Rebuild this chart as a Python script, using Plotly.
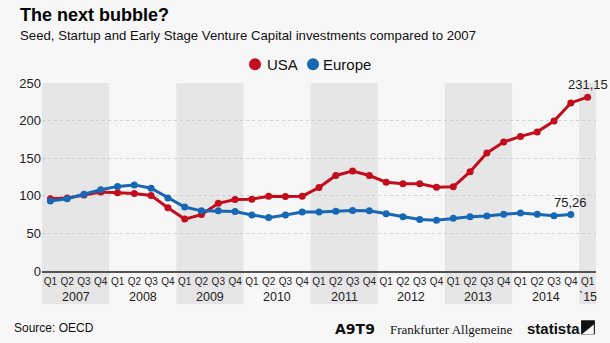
import plotly.graph_objects as go

quarters = ["Q1", "Q2", "Q3", "Q4"] * 8 + ["Q1"]
years = ["2007", "2008", "2009", "2010", "2011", "2012", "2013", "2014", "`15"]
usa = [96, 97, 101, 105, 104, 103, 100.5, 84, 69, 75, 90, 95, 95.5, 99.5, 99, 99.5,
       111, 127, 133, 127, 118, 116, 116, 111.5, 112, 132, 157, 171.5, 179, 185, 199.5, 223.5, 231.15]
europe = [93, 96, 102, 108, 112.5, 114.5, 110, 97, 85, 80, 80, 79, 74.5, 71, 74.5, 78.5,
          78.5, 79.5, 80.5, 80, 76, 72, 68.5, 67.5, 70, 72, 73, 75.5, 77, 75.5, 73.5, 75.26]
series_names = ["USA", "Europe"]

FONT_N = "Liberation Sans Narrow, Liberation Sans, sans-serif"
FONT = "Liberation Sans, Arial, sans-serif"
RED = "#c30d1c"
BLUE = "#1767b4"

xi = list(range(len(quarters)))
fig = go.Figure()

# shaded year bands
for k, yr in enumerate(years):
    if k % 2 == 0:
        x0 = 4 * k - 0.5
        x1 = min(4 * k + 3.5, len(quarters) - 0.5)
        fig.add_shape(type="rect", xref="x", yref="paper", x0=x0, x1=x1, y0=-0.177, y1=1,
                      fillcolor="#e6e6e6", line_width=0, layer="below")

fig.add_trace(go.Scatter(x=xi[:len(usa)], y=usa, mode="lines+markers", name=series_names[0],
                         line=dict(color=RED, width=3), marker=dict(color=RED, size=7),
                         showlegend=False, hoverinfo="skip"))
fig.add_trace(go.Scatter(x=xi[:len(europe)], y=europe, mode="lines+markers", name=series_names[1],
                         line=dict(color=BLUE, width=3), marker=dict(color=BLUE, size=7),
                         showlegend=False, hoverinfo="skip"))

ann = []
for k, yr in enumerate(years):
    cx = 4 * k + 1.5 if k < len(years) - 1 else 4 * k
    ann.append(dict(x=cx, y=-0.14, xref="x", yref="paper", yanchor="middle", text=yr, showarrow=False,
                    font=dict(family=FONT_N, size=12.5, color="#222")))
ann.append(dict(x=len(usa) - 1, y=usa[-1], xref="x", yref="y", text=f"{usa[-1]:.2f}".replace(".", ","),
                showarrow=False, yshift=13, font=dict(family=FONT_N, size=13, color="#222")))
ann.append(dict(x=len(europe) - 1, y=europe[-1], xref="x", yref="y", text=f"{europe[-1]:.2f}".replace(".", ","),
                showarrow=False, yshift=12, font=dict(family=FONT_N, size=13, color="#222")))
ann.append(dict(x=-0.0433, y=1.36, xref="paper", yref="paper", xanchor="left", yanchor="middle",
                text="<b>The next bubble?</b>",
                showarrow=False, font=dict(family=FONT, size=18, color="#000")))
ann.append(dict(x=-0.0433, y=1.252, xref="paper", yref="paper", xanchor="left", yanchor="middle",
                text="Seed, Startup and Early Stage Venture Capital investments compared to 2007",
                showarrow=False, font=dict(family=FONT, size=13.2, color="#111")))
ann.append(dict(x=-0.054, y=-0.305, xref="paper", yref="paper", xanchor="left", yanchor="middle",
                text="Source: OECD",
                showarrow=False, font=dict(family=FONT, size=12, color="#111")))
ann.append(dict(x=0.525, y=-0.31, xref="paper", yref="paper", xanchor="left", yanchor="middle",
                text="<b>A9T9</b>",
                showarrow=False, font=dict(family="DejaVu Sans", size=14, color="#111")))
ann.append(dict(x=0.6245, y=-0.31, xref="paper", yref="paper", xanchor="left", yanchor="middle",
                text="Frankfurter Allgemeine",
                showarrow=False, font=dict(family="Liberation Serif, serif", size=13, color="#111")))
ann.append(dict(x=0.872, y=-0.305, xref="paper", yref="paper", xanchor="left", yanchor="middle",
                text="<b>statista</b>",
                showarrow=False, font=dict(family=FONT, size=15, color="#111")))
fig.add_shape(type="rect", xref="paper", yref="paper", x0=0.973, x1=0.998, y0=-0.337, y1=-0.262,
              fillcolor="#111", line_width=0)
fig.add_shape(type="path", xref="paper", yref="paper",
              path="M 0.975,-0.335 L 0.996,-0.285 L 0.996,-0.335 Z", fillcolor="#f7f7f7", line_width=0)

# legend (manual)
for cx, col, tx, name in [(0.3845, RED, 0.4025, series_names[0]), (0.4892, BLUE, 0.5036, series_names[1])]:
    fig.add_shape(type="circle", xref="paper", yref="paper", x0=cx - 0.0108, x1=cx + 0.0108,
                  y0=1.0995 - 0.0319, y1=1.0995 + 0.0319, fillcolor=col, line_width=0)
    ann.append(dict(x=tx, y=1.0995, xref="paper", yref="paper", xanchor="left", yanchor="middle", text=name,
                    showarrow=False, font=dict(family=FONT, size=15, color="#111")))

fig.update_layout(
    width=610, height=343, margin=dict(l=42, r=14, t=83, b=72),
    paper_bgcolor="#f7f7f7", plot_bgcolor="rgba(0,0,0,0)",
    showlegend=False,
    annotations=ann,
    xaxis=dict(tickmode="array", tickvals=xi, ticktext=quarters, range=[-0.5, len(quarters) - 0.5],
               showgrid=False, zeroline=False, showline=True, linecolor="#555", linewidth=2,
               ticks="", tickangle=0, tickfont=dict(family=FONT_N, size=10, color="#222"), fixedrange=True),
    yaxis=dict(range=[0, 250], tickvals=[0, 50, 100, 150, 200, 250], showgrid=True,
               gridcolor="#cfcfcf", griddash="dot", zeroline=False, ticks="",
               tickfont=dict(family=FONT_N, size=13, color="#222"), fixedrange=True),
)
fig.write_html("out.html")
